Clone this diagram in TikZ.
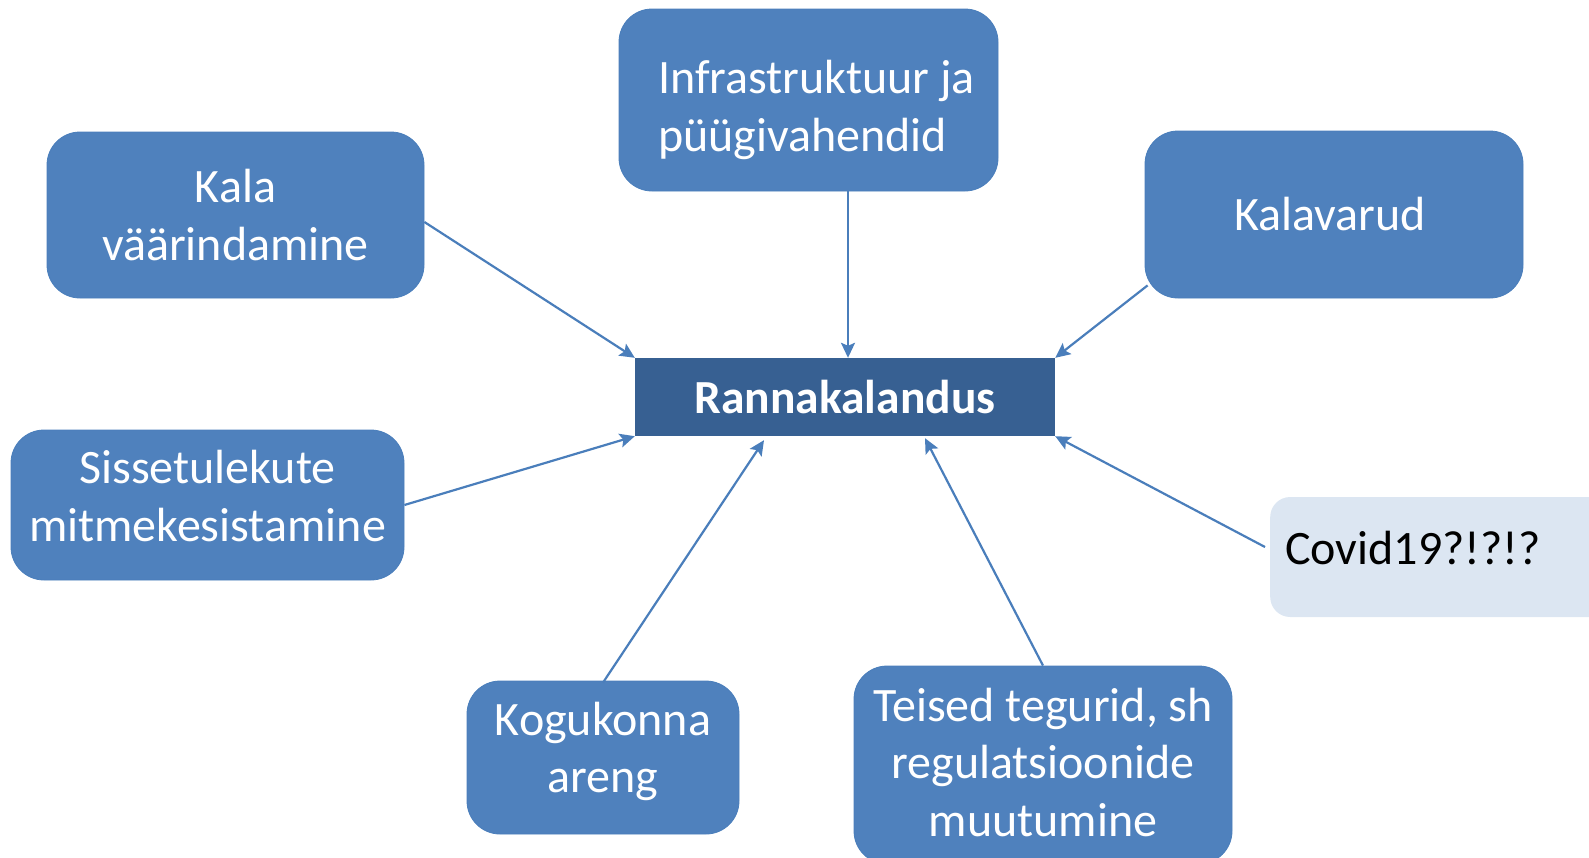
\documentclass[tikz,border=0pt]{standalone}
\usepackage{fontspec}
\setmainfont{Carlito}
\usetikzlibrary{arrows.meta,calc}
\definecolor{boxblue}{RGB}{79,129,189}
\definecolor{boxedge}{RGB}{74,126,187}
\definecolor{darkblue}{RGB}{55,96,146}
\definecolor{lightblue}{RGB}{220,230,242}
\definecolor{arrowblue}{RGB}{74,126,187}
\tikzset{
  factor/.style={rectangle, rounded corners=33pt, fill=boxblue, draw=boxedge, line width=0.8pt, inner sep=0pt},
  ftext/.style={text=white, align=center, inner sep=0pt, font=\fontsize{48}{57.5}\selectfont},
  core/.style={rectangle, fill=darkblue, text=white, minimum width=420pt, minimum height=78pt,
    inner sep=0pt, font=\fontsize{47.5}{50}\selectfont\bfseries},
  note/.style={rectangle, rounded corners=20pt, fill=lightblue, inner sep=0pt},
  ntext/.style={text=black, inner sep=0pt, font=\fontsize{48}{57.5}\selectfont},
  arr/.style={draw=arrowblue, line width=2.2pt, -{Stealth[length=15pt,width=14pt,inset=3pt]}}
}
\begin{document}
\begin{tikzpicture}[x=1pt,y=-1pt]
\useasboundingbox (0,0) rectangle (1589,857);
\clip (0,0) rectangle (1589,857);
\node[core] (rk) at (845,397) {Rannakalandus};
\node[factor, minimum width=379pt, minimum height=182pt] (infra) at (808.5,100) {};
\node[ftext, align=left, xshift=8pt, yshift=-10pt] (infraT) at (infra.center) {Infrastruktuur ja\\püügivahendid};
\node[factor, minimum width=377pt, minimum height=166pt] (kvaar) at (235.5,215) {};
\node[ftext] (kvaarT) at (kvaar.center) {Kala\\väärindamine};
\node[factor, minimum width=378pt, minimum height=167pt] (kalav) at (1334,214.5) {};
\node[ftext, xshift=-4pt] (kalavT) at (kalav.center) {Kalavarud};
\node[factor, minimum width=393pt, minimum height=150pt] (siss) at (207.5,505) {};
\node[ftext, yshift=9pt] (sissT) at (siss.center) {Sissetulekute\\mitmekesistamine};
\node[note, anchor=west, minimum width=360pt, minimum height=120pt] (covid) at (1270,557) {};
\node[ntext, anchor=west, yshift=9pt] (covidT) at ([xshift=15pt]covid.west) {Covid19?!?!?};
\node[factor, minimum width=272pt, minimum height=153pt] (kogu) at (603,757.5) {};
\node[ftext, yshift=6pt] (koguT) at (kogu.center) {Kogukonna\\areng};
\node[factor, minimum width=378pt, minimum height=198pt] (teised) at (1043,765) {};
\node[ftext, yshift=3pt] (teisedT) at (teised.center) {Teised tegurid, sh\\regulatsioonide\\muutumine};
\draw[arr] ([yshift=-7pt]kvaar.east) -- (rk.north west);
\draw[arr] ([xshift=3pt]rk.north |- infra.south) -- ([xshift=3pt]rk.north);
\draw[arr] ([shift={(3pt,13pt)}]kalav.south west) -- (rk.north east);
\draw[arr] (siss.east) -- (rk.south west);
\draw[arr] ([shift={(-5pt,10pt)}]covid.west) -- (rk.south east);
\draw[arr] ([yshift=-2pt]kogu.north) -- ([shift={(-81pt,-4pt)}]rk.south);
\draw[arr] (teised.north) -- ([shift={(80pt,-2pt)}]rk.south);
\end{tikzpicture}
\end{document}
